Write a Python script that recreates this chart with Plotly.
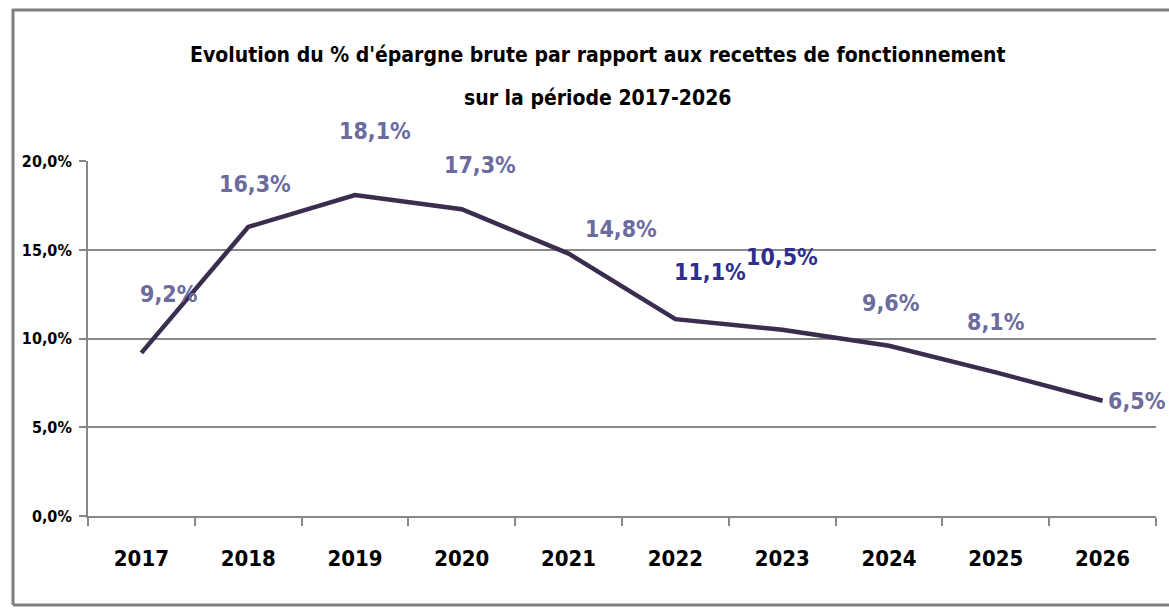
import plotly.graph_objects as go

years = ["2017", "2018", "2019", "2020", "2021", "2022", "2023", "2024", "2025", "2026"]
epargne_pct = [9.2, 16.3, 18.1, 17.3, 14.8, 11.1, 10.5, 9.6, 8.1, 6.5]
y_ticks = [0, 5, 10, 15, 20]
title_lines = ["Evolution du % d'épargne brute par rapport aux recettes de fonctionnement",
               "sur la période 2017-2026"]

# label styling (offsets in pixels relative to each point)
label_dx = [28, 7, 20, 18, 52, 35, 0, 2, 0, 34]
label_dy = [59, 43, 64, 44, 25, 47, 73, 43, 50, 0]
label_col = ["#6B6B9E"] * 5 + ["#2E2E8E", "#2E2E8E"] + ["#6B6B9E"] * 3

FONT = "DejaVu Sans Condensed"

fig = go.Figure()
fig.add_trace(go.Scatter(
    x=years, y=epargne_pct, mode="lines",
    line=dict(color="#3A2D4E", width=4.5),
    hoverinfo="skip", showlegend=False,
))

for i, (v, dx, dy, c) in enumerate(zip(epargne_pct, label_dx, label_dy, label_col)):
    fig.add_annotation(
        x=i, y=v, text=f"{v:.1f}%".replace(".", ","), showarrow=False,
        xshift=dx, yshift=dy,
        font=dict(family=FONT, size=23, color=c, weight="bold"),
    )

# title lines (pixel y from top converted to paper coords)
for txt, ypix in zip(title_lines, [55, 98]):
    fig.add_annotation(
        xref="paper", yref="paper", x=(597 - 88) / 1068, y=(516 - ypix) / 355,
        text=txt, showarrow=False, xanchor="center", yanchor="middle",
        font=dict(family=FONT, size=21, color="black", weight="bold"),
    )

PX = lambda x: (x - 88) / 1068
PY = lambda y: (516 - y) / 355
frame = dict(color="#7F7F7F", width=3)

fig.update_layout(
    width=1169, height=608,
    margin=dict(l=88, r=13, t=161, b=92, autoexpand=False),
    paper_bgcolor="white", plot_bgcolor="white",
    xaxis=dict(
        type="category", range=[-0.5, 9.5], tickson="boundaries",
        ticks="outside", ticklen=8, tickcolor="#888888", tickwidth=2,
        showline=True, linecolor="#888888", linewidth=2, showgrid=False,
        tickfont=dict(family=FONT, size=22, color="black", weight="bold"),
        ticklabelstandoff=22, tickangle=0, automargin=False,
    ),
    yaxis=dict(
        range=[0, 20.02], tickvals=y_ticks,
        ticktext=[f"{t:.1f}%".replace(".", ",") for t in y_ticks],
        ticks="outside", ticklen=7, tickcolor="#888888", tickwidth=2,
        showline=True, linecolor="#888888", linewidth=2,
        showgrid=True, gridcolor="#888888", gridwidth=2,
        zeroline=False, automargin=False, ticklabelstandoff=4,
        tickfont=dict(family=FONT, size=16, color="black", weight="bold"),
    ),
    shapes=[
        dict(type="line", xref="paper", yref="paper",
             x0=PX(12), x1=PX(1169), y0=PY(10), y1=PY(10), line=frame, layer="above"),
        dict(type="line", xref="paper", yref="paper",
             x0=PX(13), x1=PX(13), y0=PY(9), y1=PY(605), line=frame, layer="above"),
        dict(type="line", xref="paper", yref="paper",
             x0=PX(13), x1=PX(1169), y0=PY(605), y1=PY(605), line=frame, layer="above"),
    ],
)

fig.write_html(
    "out.html",
    config={"displayModeBar": False},
    post_script="document.body.style.margin='0';document.body.style.overflow='hidden';",
)
